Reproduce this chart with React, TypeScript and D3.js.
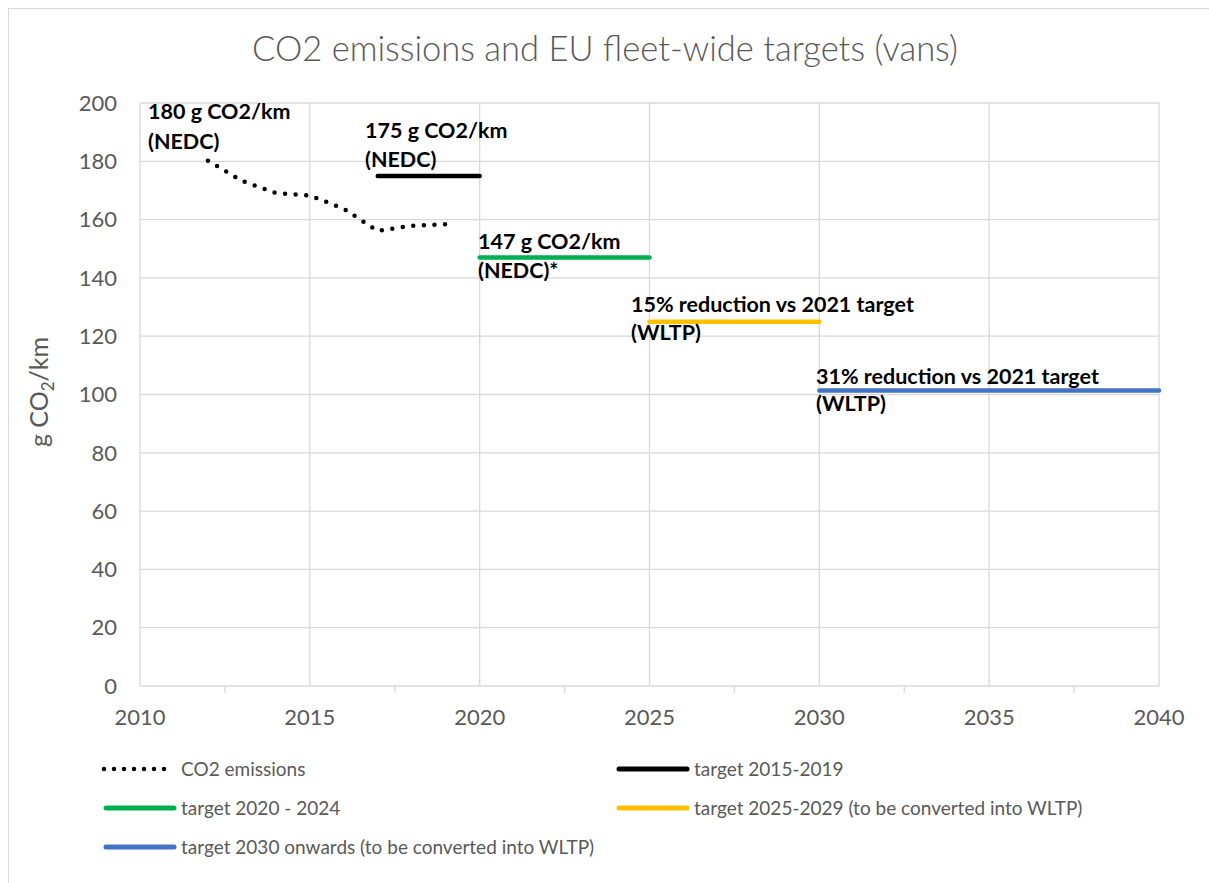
import React from "react";
import * as d3 from "d3";

const emissionYears = [2012, 2013, 2014, 2015, 2016, 2017, 2018, 2019];
const emissionValues = [180.2, 173.3, 169.1, 168.3, 163.7, 156.1, 157.9, 158.4];

const targetNames = [
  "target 2015-2019",
  "target 2020 - 2024",
  "target 2025-2029 (to be converted into WLTP)",
  "target 2030 onwards (to be converted into WLTP)",
];
const targetStart = [2017, 2020, 2025, 2030];
const targetEnd = [2020, 2025, 2030, 2040];
const targetValues = [175, 147, 125, 101.4];

const emissionsName = "CO2 emissions";

const annotationLines = [
  ["180 g CO2/km", "(NEDC)"],
  ["175 g CO2/km", "(NEDC)"],
  ["147 g CO2/km", "(NEDC)*"],
  ["15% reduction vs 2021 target", "(WLTP)"],
  ["31% reduction vs 2021 target", "(WLTP)"],
];

const yTicks = [0, 20, 40, 60, 80, 100, 120, 140, 160, 180, 200];
const xTicks = [2010, 2015, 2020, 2025, 2030, 2035, 2040];
const xMinorTicks = [2012.5, 2017.5, 2022.5, 2027.5, 2032.5, 2037.5];

const title = "CO2 emissions and EU fleet-wide targets (vans)";

const targetColors = ["#000000", "#00b050", "#ffc000", "#4472c4"];
const FONT = "Lato, 'Open Sans', sans-serif";
const GRAY = "#595959";
const GRID = "#d9d9d9";

export default function App() {
  const x = d3.scaleLinear().domain([2010, 2040]).range([140, 1159]);
  const y = d3.scaleLinear().domain([0, 200]).range([686, 103]);

  const emissionsLine = d3
    .line<number>()
    .x((_, i) => x(emissionYears[i]))
    .y((d) => y(d));

  // annotation layout: [x, baseline1, baseline2]
  const annLayout = [
    [148, 119, 149],
    [365, 138, 167],
    [478, 249, 278],
    [631, 312, 340],
    [816, 384, 411],
  ];

  const legendItems = [
    { label: emissionsName, kind: "dots", color: "#000", lx: 104, ly: 769 },
    { label: targetNames[0], kind: "line", color: targetColors[0], lx: 619, ly: 769 },
    { label: targetNames[1], kind: "line", color: targetColors[1], lx: 106, ly: 808 },
    { label: targetNames[2], kind: "line", color: targetColors[2], lx: 619, ly: 808 },
    { label: targetNames[3], kind: "line", color: targetColors[3], lx: 106, ly: 847 },
  ];

  return (
    <svg
      width={1209}
      height={883}
      style={{ position: "absolute", left: 0, top: 0, background: "#fff" }}
      fontFamily={FONT}
    >
      <rect x={8.5} y={8.5} width={1210} height={890} fill="#fff" stroke={GRID} strokeWidth={1} />
      <text x={605} y={61} textAnchor="middle" fontSize={34.5} fill={GRAY} fontWeight={300}>
        {title}
      </text>

      {/* grid */}
      {yTicks.map((t) => (
        <line key={"gy" + t} x1={x(2010)} x2={x(2040)} y1={y(t)} y2={y(t)} stroke={GRID} strokeWidth={1.3} />
      ))}
      {xTicks.map((t) => (
        <line key={"gx" + t} x1={x(t)} x2={x(t)} y1={y(0)} y2={y(200)} stroke={GRID} strokeWidth={1.3} />
      ))}
      {xMinorTicks.map((t) => (
        <line key={"mx" + t} x1={x(t)} x2={x(t)} y1={y(0)} y2={y(0) + 7} stroke={GRID} strokeWidth={1.3} />
      ))}

      {/* y tick labels */}
      {yTicks.map((t) => (
        <text key={"ty" + t} x={117} y={y(t)} dy="0.35em" textAnchor="end" fontSize={22} fill={GRAY}>
          {t}
        </text>
      ))}
      {xTicks.map((t) => (
        <text key={"tx" + t} x={x(t)} y={725} textAnchor="middle" fontSize={22} fill={GRAY}>
          {t}
        </text>
      ))}

      {/* y axis title */}
      <text transform="translate(48,392) rotate(-90)" textAnchor="middle" fontSize={25} fill={GRAY}>
        g CO
        <tspan fontSize={17} dy={6}>2</tspan>
        <tspan dy={-6}>/km</tspan>
      </text>

      {/* emissions */}
      <path
        d={emissionsLine(emissionValues) || ""}
        fill="none"
        stroke="#000"
        strokeWidth={4.5}
        strokeLinecap="round"
        strokeDasharray="0 10.6"
      />

      {/* targets */}
      {targetValues.map((v, i) => (
        <line
          key={"t" + i}
          x1={x(targetStart[i])}
          x2={x(targetEnd[i])}
          y1={y(v)}
          y2={y(v)}
          stroke={targetColors[i]}
          strokeWidth={4.5}
          strokeLinecap="round"
        />
      ))}

      {/* annotations */}
      {annotationLines.map((lines, i) => (
        <text key={"a" + i} x={annLayout[i][0]} fontSize={21.5} fontWeight={700} fill="#000">
          <tspan x={annLayout[i][0]} y={annLayout[i][1]}>{lines[0]}</tspan>
          <tspan x={annLayout[i][0]} y={annLayout[i][2]}>{lines[1]}</tspan>
        </text>
      ))}

      {/* legend */}
      {legendItems.map((it, i) => (
        <g key={"l" + i}>
          {it.kind === "dots" ? (
            <line
              x1={it.lx}
              x2={it.lx + 62}
              y1={it.ly}
              y2={it.ly}
              stroke="#000"
              strokeWidth={4.5}
              strokeLinecap="round"
              strokeDasharray="0 10"
            />
          ) : (
            <line
              x1={it.lx}
              x2={it.lx + 68}
              y1={it.ly}
              y2={it.ly}
              stroke={it.color}
              strokeWidth={5}
              strokeLinecap="round"
            />
          )}
          <text x={it.kind === "dots" ? 181 : it.lx + 75} y={it.ly} dy="0.35em" fontSize={19} fill={GRAY}>
            {it.label}
          </text>
        </g>
      ))}
    </svg>
  );
}
